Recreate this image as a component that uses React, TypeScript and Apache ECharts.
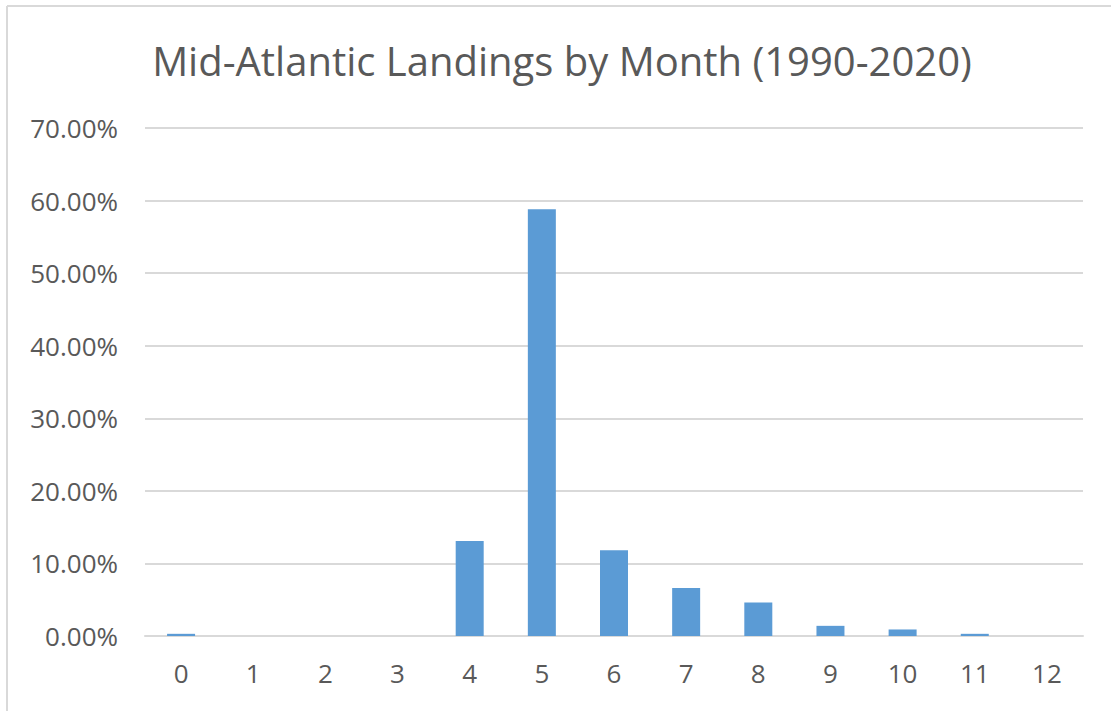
import React, { useEffect, useRef } from "react";
import * as echarts from "echarts";

const categories = ["0", "1", "2", "3", "4", "5", "6", "7", "8", "9", "10", "11", "12"];
const shares = [0.3, 0, 0, 0, 13.1, 58.8, 11.8, 6.6, 4.6, 1.4, 0.9, 0.3, 0];
const titleText = "Mid-Atlantic Landings by Month (1990-2020)";

export default function App() {
  const ref = useRef<HTMLDivElement>(null);
  useEffect(() => {
    if (!ref.current) return;
    const chart = echarts.init(ref.current, null, { renderer: "svg" });
    chart.setOption({
      animation: false,
      backgroundColor: "#ffffff",
      grid: { left: 145, right: 28, top: 128, bottom: 75 },
      xAxis: {
        type: "category",
        data: categories,
        axisLine: { lineStyle: { color: "#d9d9d9", width: 2 } },
        axisTick: { show: false },
        axisLabel: { color: "#595959", fontFamily: "Open Sans", fontSize: 26, margin: 24 },
      },
      yAxis: {
        type: "value",
        min: 0,
        max: 70,
        interval: 10,
        axisLine: { show: false },
        axisTick: { show: false },
        splitLine: { lineStyle: { color: "#d9d9d9", width: 2 } },
        axisLabel: {
          color: "#595959",
          fontFamily: "Open Sans",
          fontSize: 26,
          margin: 27,
          formatter: (v: number) => v.toFixed(2) + "%",
        },
      },
      series: [
        {
          type: "bar",
          data: shares,
          barWidth: 28,
          itemStyle: { color: "#5b9bd5" },
        },
      ],
      graphic: [
        { type: "line", shape: { x1: 7, y1: 6, x2: 1111, y2: 6 }, style: { stroke: "#d9d9d9", lineWidth: 2 } },
        { type: "line", shape: { x1: 7, y1: 6, x2: 7, y2: 711 }, style: { stroke: "#d9d9d9", lineWidth: 2 } },
        {
          type: "text",
          x: 562,
          y: 60,
          style: {
            text: titleText,
            fontFamily: "Open Sans",
            fontSize: 40,
            fill: "#595959",
            align: "center",
            verticalAlign: "middle",
          },
        },
      ],
    });
    return () => chart.dispose();
  }, []);
  return (
    <div
      ref={ref}
      style={{ position: "fixed", left: 0, top: 0, width: 1111, height: 711 }}
    />
  );
}
